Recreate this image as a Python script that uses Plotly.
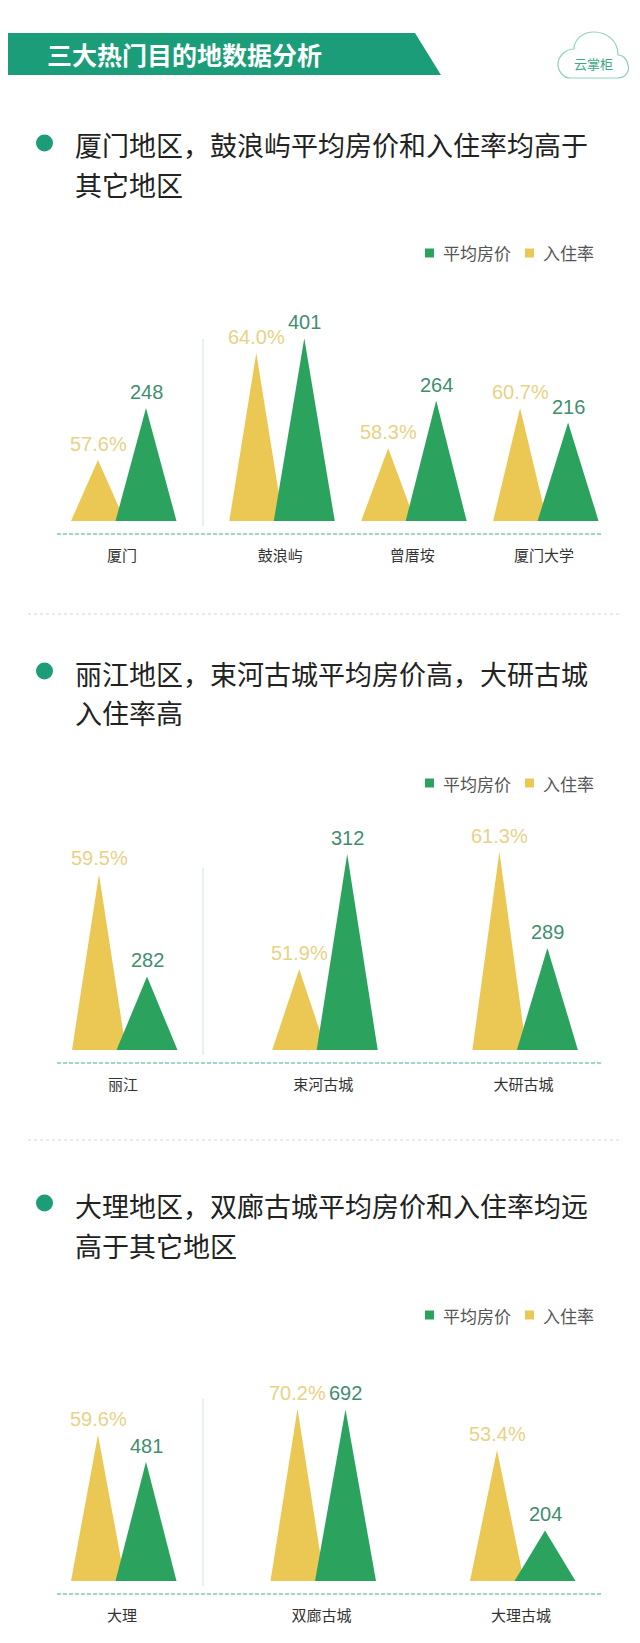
import plotly.graph_objects as go

W, H = 640, 1643

# data
CITY1 = ["厦门", "鼓浪屿", "曾厝垵", "厦门大学"]
PRICE1 = [248, 401, 264, 216]
RATE1 = [57.6, 64.0, 58.3, 60.7]

CITY2 = ["丽江", "束河古城", "大研古城"]
PRICE2 = [282, 312, 289]
RATE2 = [59.5, 51.9, 61.3]

CITY3 = ["大理", "双廊古城", "大理古城"]
PRICE3 = [481, 692, 204]
RATE3 = [59.6, 70.2, 53.4]

BANNER = "三大热门目的地数据分析"
HEADINGS = [
    ("厦门地区，鼓浪屿平均房价和入住率均高于", "其它地区"),
    ("丽江地区，束河古城平均房价高，大研古城", "入住率高"),
    ("大理地区，双廊古城平均房价和入住率均远", "高于其它地区"),
]
LEGEND = ["平均房价", "入住率"]

GREEN = "#2ba35f"
YELLOW = "#ebc853"
TEAL = "#1a9d78"
NUM_FONT = "Liberation Sans, Arial, sans-serif"
CJK_FONT = "Noto Sans CJK SC, sans-serif"


def px(x):
    return x / W


def py(y):
    return 1 - y / H


# per-chart layout: baseline pixel, first group centre, group step, axis scales
charts = [
    dict(names=CITY1, price=PRICE1, rate=RATE1, base=513, x0=114, step=131.9, gap=0.2,
         pmin=0, pscale=0.456, rmin=53.94, rscale=16.7, head=(137, 177), leg=245),
    dict(names=CITY2, price=PRICE2, rate=RATE2, base=1042, x0=115, step=200.2, gap=0,
         pmin=264, pscale=4.085, rmin=45.43, rscale=12.5, head=(665, 704), leg=775),
    dict(names=CITY3, price=PRICE3, rate=RATE3, base=1573, x0=114, step=199.5, gap=0,
         pmin=0, pscale=0.248, rmin=0, rscale=2.455, head=(1197, 1237), leg=1307),
]
PLOT_H = 260
OFF, HALF_Y, HALF_G = 24, 27, 30.5

fig = go.Figure()
shapes = []
annotations = []
layout_axes = {}

for k, c in enumerate(charts):
    xname = "x" if k == 0 else f"x{k + 1}"
    yb = f"y{2 * k + 1}" if k else "y"
    yo = f"y{2 * k + 2}"
    step = c["step"]
    pos = [i + (c["gap"] if i > 0 else 0) for i in range(len(c["names"]))]

    # yellow (base axis) first, green on overlaying axis so it sits in front
    for p, v in zip(pos, c["rate"]):
        cx = p - OFF / step
        hw = HALF_Y / step
        fig.add_trace(go.Scatter(
            x=[cx - hw, cx, cx + hw], y=[c["rmin"], v, c["rmin"]],
            fill="toself", fillcolor=YELLOW, line=dict(width=0), mode="lines",
            xaxis=xname, yaxis=yb, showlegend=False, hoverinfo="skip"))
        annotations.append(dict(
            x=cx, y=v, xref=xname, yref=yb, text=f"{v:.1f}%", showarrow=False,
            yanchor="middle", yshift=16,
            font=dict(family=NUM_FONT, size=20, color="#e8d286")))
    for p, v in zip(pos, c["price"]):
        cx = p + OFF / step
        hw = HALF_G / step
        fig.add_trace(go.Scatter(
            x=[cx - hw, cx, cx + hw], y=[c["pmin"], v, c["pmin"]],
            fill="toself", fillcolor=GREEN, line=dict(width=0), mode="lines",
            xaxis=xname, yaxis=yo, showlegend=False, hoverinfo="skip"))
        annotations.append(dict(
            x=cx, y=v, xref=xname, yref=yo, text=str(v), showarrow=False,
            yanchor="middle", yshift=16,
            font=dict(family=NUM_FONT, size=20, color="#3f8e6f")))

    b = c["base"]
    dom = [py(b), py(b - PLOT_H)]
    xkey = "xaxis" if k == 0 else f"xaxis{k + 1}"
    ybkey = "yaxis" if k == 0 else f"yaxis{2 * k + 1}"
    yokey = f"yaxis{2 * k + 2}"
    layout_axes[xkey] = dict(
        domain=[0, 1], range=[-c["x0"] / step, (W - c["x0"]) / step],
        tickvals=pos, ticktext=c["names"], showgrid=False, zeroline=False,
        showline=False, ticks="", ticklabelstandoff=24, anchor=yb, fixedrange=True,
        tickfont=dict(family=CJK_FONT, size=15, color="#333333"))
    layout_axes[ybkey] = dict(
        domain=dom, range=[c["rmin"], c["rmin"] + PLOT_H / c["rscale"]],
        visible=False, anchor=xname, fixedrange=True)
    layout_axes[yokey] = dict(
        overlaying=yb, range=[c["pmin"], c["pmin"] + PLOT_H / c["pscale"]],
        visible=False, anchor=xname, fixedrange=True)

    # dashed base line and the divider after the first group
    shapes.append(dict(type="line", xref="paper", yref="paper",
                       x0=px(49), x1=px(594), y0=py(b + 13), y1=py(b + 13),
                       line=dict(color="#7fc8bd", width=1.5, dash="4px,2px")))
    shapes.append(dict(type="line", xref="paper", yref="paper",
                       x0=px(195), x1=px(195), y0=py(b - 182), y1=py(b + 5),
                       line=dict(color="#d3dfe2", width=1)))

    # heading with bullet
    h1, h2 = c["head"]
    shapes.append(dict(type="circle", xref="paper", yref="paper",
                       x0=px(28), x1=px(45), y0=py(h1 - 2 + 8.5), y1=py(h1 - 2 - 8.5),
                       fillcolor=TEAL, line=dict(width=0)))
    for yy, txt in zip((h1, h2), HEADINGS[k]):
        annotations.append(dict(
            x=px(65), y=py(yy), xref="paper", yref="paper", text=txt,
            showarrow=False, xanchor="left", yanchor="middle",
            font=dict(family=CJK_FONT, size=27, color="#222222")))

    # legend
    ly = c["leg"]
    for sx, col, lx, txt in ((417, GREEN, 433, LEGEND[0]), (517, YELLOW, 533, LEGEND[1])):
        shapes.append(dict(type="rect", xref="paper", yref="paper",
                           x0=px(sx), x1=px(sx + 9), y0=py(ly + 4.5), y1=py(ly - 4.5),
                           fillcolor=col, line=dict(width=0)))
        annotations.append(dict(
            x=px(lx), y=py(ly), xref="paper", yref="paper", text=txt,
            showarrow=False, xanchor="left", yanchor="middle",
            font=dict(family=CJK_FONT, size=17, color="#555555")))

# section separators
for yy in (606, 1132):
    shapes.append(dict(type="line", xref="paper", yref="paper",
                       x0=px(20), x1=px(613), y0=py(yy), y1=py(yy),
                       line=dict(color="#d6d6d6", width=1, dash="3px,3px")))

# header banner
banner = f"M {px(0)},{py(25)} L {px(407)},{py(25)} L {px(433)},{py(67)} L {px(0)},{py(67)} Z"
shapes.append(dict(type="path", xref="paper", yref="paper", path=banner,
                   fillcolor=TEAL, line=dict(width=0)))
annotations.append(dict(
    x=px(37), y=py(46), xref="paper", yref="paper", text=f"<b>{BANNER}</b>",
    showarrow=False, xanchor="left", yanchor="middle",
    font=dict(family=CJK_FONT, size=25, color="white")))

# cloud logo
pts = [("M", [(562, 70)]), ("L", [(610, 70)]),
       ("C", [(618, 70), (622, 62), (620, 57)]),
       ("C", [(619, 51), (615, 47), (610, 47)]),
       ("C", [(610, 32), (598, 24), (586, 24)]),
       ("C", [(574, 24), (566, 32), (566, 41)]),
       ("C", [(558, 41), (550, 48), (550, 56)]),
       ("C", [(550, 64), (556, 70), (562, 70)])]
cloud = " ".join(cmd + " " + " ".join(f"{px(a)},{py(b)}" for a, b in ps) for cmd, ps in pts) + " Z"
shapes.append(dict(type="path", xref="paper", yref="paper", path=cloud,
                   fillcolor="white", line=dict(color="#8fcfbf", width=1.2)))
annotations.append(dict(
    x=px(585), y=py(55), xref="paper", yref="paper", text="云掌柜",
    showarrow=False, xanchor="center", yanchor="middle",
    font=dict(family=CJK_FONT, size=13, color="#3fa887")))

fig.update_layout(
    width=W, height=H, margin=dict(l=0, r=0, t=0, b=0),
    paper_bgcolor="white", plot_bgcolor="rgba(0,0,0,0)",
    shapes=shapes, annotations=annotations, showlegend=False,
    **layout_axes)

fig.write_html("out.html", config={"displayModeBar": False})
